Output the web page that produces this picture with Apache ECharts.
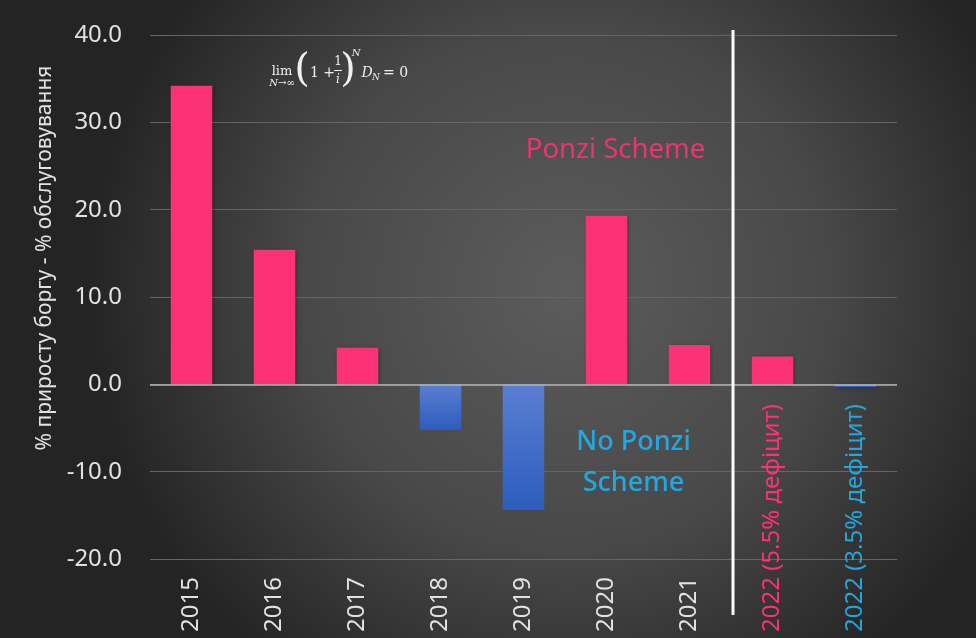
<!DOCTYPE html>
<html>
<head>
<meta charset="utf-8">
<script src="https://cdn.jsdelivr.net/npm/echarts@6/dist/echarts.min.js"></script>
<style>
html,body{margin:0;padding:0;background:#333;}
#c{width:976px;height:638px;}
</style>
</head>
<body>
<div id="c"></div>
<script>
var categories = ['2015','2016','2017','2018','2019','2020','2021','2022 (5.5% дефіцит)','2022 (3.5% дефіцит)'];
var values = [34.2, 15.4, 4.2, -5.2, -14.4, 19.3, 4.5, 3.2, -0.3];
var yTicks = [-20, -10, 0, 10, 20, 30, 40];
var axisTitle = '% приросту боргу - % обслуговування';
var annotations = ['Ponzi Scheme', 'No Ponzi\nScheme'];

var PINK = '#fd3176';
var BLUE_TXT = '#22a8e0';
var FONT = '"Noto Sans", sans-serif';

var chart = echarts.init(document.getElementById('c'), null, {renderer: 'canvas'});

var barData = values.map(function (v) {
  return {
    value: v,
    itemStyle: v >= 0 ? {color: PINK} : {
      color: new echarts.graphic.LinearGradient(0, 0, 0, 1, [
        {offset: 0, color: '#5a7fd2'},
        {offset: 1, color: '#2d5dbd'}
      ])
    }
  };
});

var option = {
  backgroundColor: {
    type: 'radial', x: 0.58, y: 0.45, r: 0.75,
    colorStops: [
      {offset: 0, color: '#5c5c5c'},
      {offset: 0.55, color: '#484848'},
      {offset: 1, color: '#242424'}
    ]
  },
  animation: false,
  grid: {left: 150, right: 79, top: 35, bottom: 79, containLabel: false},
  xAxis: {
    type: 'category',
    data: categories,
    axisLine: {show: false},
    axisTick: {show: false},
    splitLine: {show: false},
    axisLabel: {
      interval: 0,
      rotate: 90,
      align: 'left',
      verticalAlign: 'middle',
      margin: 73,
      fontFamily: FONT,
      fontSize: 24,
      color: '#e2e2e2',
      formatter: function (v, i) {
        if (i === 7) return '{p|' + v + '}';
        if (i === 8) return '{b|' + v + '}';
        return v;
      },
      rich: {
        p: {color: PINK, fontFamily: FONT, fontSize: 24},
        b: {color: BLUE_TXT, fontFamily: FONT, fontSize: 24}
      }
    }
  },
  yAxis: {
    type: 'value',
    min: yTicks[0],
    max: yTicks[yTicks.length - 1],
    interval: 10,
    axisLine: {show: false},
    axisTick: {show: false},
    splitLine: {show: true, lineStyle: {color: '#656565', width: 1}},
    axisLabel: {
      margin: 28,
      fontFamily: FONT,
      fontSize: 24,
      color: '#e2e2e2',
      formatter: function (v) { return v.toFixed(1); }
    }
  },
  series: [{
    type: 'bar',
    data: barData,
    barWidth: '50%',
    itemStyle: {shadowBlur: 4, shadowColor: 'rgba(0,0,0,0.35)', shadowOffsetX: 1, shadowOffsetY: 1},
    markLine: {
      silent: true,
      symbol: ['none', 'none'],
      label: {show: false},
      lineStyle: {color: '#b4b4b4', type: 'solid', width: 1.5},
      data: [{yAxis: 0}]
    }
  }]
};
chart.setOption(option);

var xa = chart.convertToPixel({xAxisIndex: 0}, 6);
var xb = chart.convertToPixel({xAxisIndex: 0}, 7);
var divX = (xa + xb) / 2 + 2;
var yTop = chart.convertToPixel({yAxisIndex: 0}, 40);
var ponziPt = chart.convertToPixel({gridIndex: 0}, [5, 27]);
var noPonziPt = chart.convertToPixel({gridIndex: 0}, [5, -9.8]);

var serif = '"DejaVu Serif", "Liberation Serif", serif';
var fc = '#f0f0f0';

chart.setOption({
  graphic: [
    {
      type: 'line', z: 100,
      shape: {x1: divX, y1: yTop - 5, x2: divX, y2: 615},
      style: {stroke: '#ffffff', lineWidth: 3}
    },
    {
      type: 'text', z: 100,
      x: 45, y: 258, rotation: Math.PI / 2,
      style: {text: axisTitle, fill: '#e2e2e2', font: '21px ' + FONT, align: 'center', verticalAlign: 'middle'}
    },
    {
      type: 'text', z: 100,
      x: ponziPt[0] + 9, y: 150,
      style: {text: annotations[0], fill: '#ea3571', font: '27.5px ' + FONT, align: 'center', verticalAlign: 'middle'}
    },
    {
      type: 'text', z: 100,
      x: noPonziPt[0] + 27, y: 463,
      style: {text: annotations[1], fill: BLUE_TXT, font: '500 27px ' + FONT, align: 'center', verticalAlign: 'middle', lineHeight: 41}
    },
    {
      type: 'group', z: 100,
      children: [
        {type: 'text', x: 282, y: 72, style: {text: 'lim', fill: fc, font: '13px ' + serif, align: 'center', verticalAlign: 'middle'}},
        {type: 'text', x: 282, y: 83, style: {text: 'N→∞', fill: fc, font: 'italic 10px ' + serif, align: 'center', verticalAlign: 'middle'}},
        {type: 'text', x: 302, y: 71, style: {text: '(', fill: fc, font: '200 40px ' + serif, align: 'center', verticalAlign: 'middle'}},
        {type: 'text', x: 310, y: 73, style: {text: '1 +', fill: fc, font: '14px ' + serif, align: 'left', verticalAlign: 'middle'}},
        {type: 'text', x: 338, y: 62, style: {text: '1', fill: fc, font: '12px ' + serif, align: 'center', verticalAlign: 'middle'}},
        {type: 'line', shape: {x1: 334, y1: 70.5, x2: 342, y2: 70.5}, style: {stroke: fc, lineWidth: 1}},
        {type: 'text', x: 338, y: 80, style: {text: 'i', fill: fc, font: 'italic 12px ' + serif, align: 'center', verticalAlign: 'middle'}},
        {type: 'text', x: 348, y: 71, style: {text: ')', fill: fc, font: '200 40px ' + serif, align: 'center', verticalAlign: 'middle'}},
        {type: 'text', x: 356, y: 53, style: {text: 'N', fill: fc, font: 'italic 10px ' + serif, align: 'center', verticalAlign: 'middle'}},
        {type: 'text', x: 367, y: 73, style: {text: 'D', fill: fc, font: 'italic 14px ' + serif, align: 'center', verticalAlign: 'middle'}},
        {type: 'text', x: 376, y: 78, style: {text: 'N', fill: fc, font: 'italic 9px ' + serif, align: 'center', verticalAlign: 'middle'}},
        {type: 'text', x: 383, y: 73, style: {text: '= 0', fill: fc, font: '14px ' + serif, align: 'left', verticalAlign: 'middle'}}
      ]
    }
  ]
});
</script>
</body>
</html>
